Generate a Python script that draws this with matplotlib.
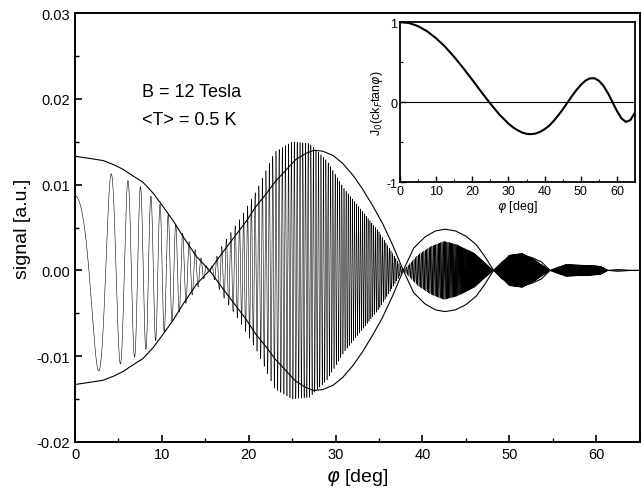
import numpy as np
import matplotlib
matplotlib.use("Agg")
import matplotlib.pyplot as plt
from matplotlib.ticker import MultipleLocator

plt.rcParams['font.family'] = ['Liberation Sans', 'DejaVu Sans']
plt.rcParams['axes.unicode_minus'] = False

# envelope (upper curve, signed)
env_phi = [0, 2, 3.25, 4.5, 5.5, 7, 7.8, 9, 10.1, 11.3, 12.4, 14, 15.5,
           17, 18.5, 19.7, 20.8, 22, 23.1, 24.3, 25.4, 26.5, 27.5, 28.5,
           29.7, 30.8, 32, 33.1, 34.3, 35.4, 36.6, 37.8,
           39, 40.3, 41.5, 42.6, 43.8, 45, 46.2, 47.2, 48.2,
           49.2, 50.3, 51.5, 52.6, 53.7, 54.7,
           55.8, 57, 58.5, 60, 61.4, 62.5, 64, 65]
env_val = [0.0133, 0.0130, 0.0128, 0.0123, 0.0118, 0.0108, 0.0103, 0.0090,
           0.0075, 0.0058, 0.0040, 0.0016, 0.0,
           -0.0021, -0.0041, -0.0057, -0.0074, -0.0089, -0.0104, -0.0117,
           -0.0129, -0.0136, -0.0140, -0.0139, -0.0134, -0.0125, -0.0111,
           -0.0095, -0.0075, -0.0055, -0.0029, 0.0,
           0.0026, 0.0039, 0.0046, 0.0048, 0.0046, 0.0040, 0.0030, 0.0016, 0.0,
           -0.0010, -0.0016, -0.0018, -0.0015, -0.0010, 0.0,
           0.0004, 0.0005, 0.0005, 0.0003, 0.0, -0.0001, 0.0, 0.0]

# amplitude of the measured oscillation
sig_phi = [0, 2.5, 5, 7.5, 10, 12.5, 14, 15.5, 17, 19, 21, 23, 25, 27, 29,
           31, 33, 35, 37.8, 39.5, 41, 42.5, 44, 46, 48.2, 50, 51.5, 53,
           54.7, 56.5, 59, 60.5, 61.4, 65]
sig_amp = [0.0120, 0.0118, 0.0110, 0.0098, 0.0075, 0.0042, 0.0022, 0.0,
           0.0030, 0.0060, 0.0095, 0.0138, 0.0150, 0.0148, 0.0128, 0.0095,
           0.0070, 0.0045, 0.0, 0.0018, 0.0028, 0.0034, 0.0030, 0.0020, 0.0,
           0.0018, 0.0020, 0.0012, 0.0, 0.0007, 0.0006, 0.0005, 0.0, 0.0]
osc_n = 330      # oscillations per unit of 1/cos(phi)
osc_phase = 0.76

# inset: J0(c kF tan phi)
in_phi = [0, 2.5, 5, 7.5, 10, 12.5, 15, 17.5, 20, 22.5, 25, 27.5, 28.75,
          30, 31.25, 32.5, 33.75, 35, 36.25, 37.5, 38.75, 40, 41.25, 42.5,
          43.75, 45, 46.25, 47.5, 48.75, 50, 51.25, 52.5, 53.75, 55, 56.25,
          57.5, 58.75, 60, 61.25, 62.5, 63.75, 65]
in_j0 = [1.0, 0.987, 0.948, 0.884, 0.796, 0.690, 0.563, 0.424, 0.276, 0.125,
         -0.021, -0.157, -0.213, -0.270, -0.317, -0.352, -0.381, -0.398,
         -0.402, -0.395, -0.373, -0.340, -0.297, -0.237, -0.169, -0.094,
         -0.012, 0.071, 0.147, 0.213, 0.266, 0.295, 0.297, 0.266, 0.204,
         0.112, 0.001, -0.112, -0.205, -0.249, -0.225, -0.13]

phi = np.linspace(0, 65, 40000)
amp = np.interp(phi, sig_phi, sig_amp)
sig = amp * np.cos(2 * np.pi * osc_n * (1 / np.cos(np.radians(phi)) - 1) + osc_phase)
env_val = np.array(env_val)

fig = plt.figure(figsize=(6.41, 5.02), dpi=100)
ax = fig.add_axes([75 / 641, 59 / 502, 564.5 / 641, 429 / 502])
ax.plot(phi, sig, color='k', lw=0.4)
ax.plot(env_phi, env_val, color='k', lw=0.8)
ax.plot(env_phi, -env_val, color='k', lw=0.8)
ax.set_xlim(0, 65)
ax.set_ylim(-0.02, 0.03)
ax.xaxis.set_major_locator(MultipleLocator(10))
ax.xaxis.set_minor_locator(MultipleLocator(5))
ax.yaxis.set_major_locator(MultipleLocator(0.01))
ax.yaxis.set_minor_locator(MultipleLocator(0.005))
ax.yaxis.set_major_formatter(plt.FormatStrFormatter('%.2f'))
ax.tick_params(which='both', direction='in', top=False, right=False, labelsize=10.5)
ax.tick_params(which='major', length=5, width=1.2)
ax.tick_params(which='minor', length=3, width=1)
for s in ax.spines.values():
    s.set_linewidth(1.4)
ax.set_xlabel(r'$\varphi$ [deg]', fontsize=14, labelpad=4)
ax.set_ylabel('signal [a.u.]', fontsize=14, labelpad=4)
ax.text(7.7, 0.0208, 'B = 12 Tesla', fontsize=13, va='center')
ax.text(7.7, 0.0176, '<T> = 0.5 K', fontsize=13, va='center')

ins = fig.add_axes([400 / 641, (502 - 183) / 502, 235 / 641, 160 / 502])
ins.plot(in_phi, in_j0, color='k', lw=1.5)
ins.axhline(0, color='k', lw=0.8)
ins.set_xlim(0, 65)
ins.set_ylim(-1, 1)
ins.xaxis.set_major_locator(MultipleLocator(10))
ins.xaxis.set_minor_locator(MultipleLocator(5))
ins.yaxis.set_major_locator(MultipleLocator(1))
ins.yaxis.set_minor_locator(MultipleLocator(0.5))
ins.tick_params(which='both', direction='in', top=False, right=False, labelsize=9, pad=2)
ins.tick_params(which='major', length=4, width=1)
ins.tick_params(which='minor', length=2, width=0.8)
for s in ins.spines.values():
    s.set_linewidth(1.3)
ins.set_xlabel(r'$\varphi$ [deg]', fontsize=9, labelpad=1)
ins.set_ylabel(r'J$_0$(ck$_F$tan$\varphi$)', fontsize=9, labelpad=1)

fig.savefig('out.png', dpi=100)
